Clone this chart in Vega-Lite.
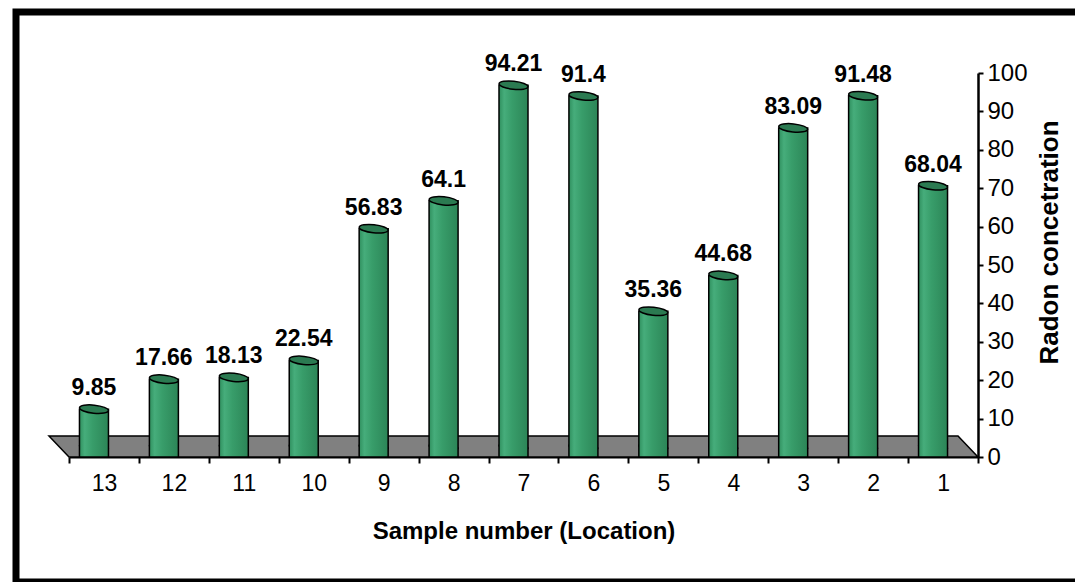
{
  "$schema": "https://vega.github.io/schema/vega-lite/v6.json",
  "width": 1070,
  "height": 570,
  "autosize": "none",
  "padding": {"left": 16, "top": 12, "right": 0, "bottom": 0},
  "background": "white",
  "config": {
    "view": {"stroke": "black", "strokeWidth": 7},
    "font": "Liberation Sans",
    "axisRight": {
      "grid": false,
      "domainColor": "black", "domainWidth": 2.5,
      "tickColor": "black", "tickWidth": 2, "tickSize": 5,
      "labelFontSize": 24, "labelColor": "black", "labelPadding": 4, "labelFont": "Liberation Sans",
      "titleFontSize": 26, "titleFontWeight": "bold", "titleColor": "black",
      "titleAngle": 270, "titleBaseline": "top", "titlePadding": 9, "titleFont": "Liberation Sans"
    }
  },
  "datasets": {
    "radon": [
      {"loc": "13", "value": 9.85},
      {"loc": "12", "value": 17.66},
      {"loc": "11", "value": 18.13},
      {"loc": "10", "value": 22.54},
      {"loc": "9", "value": 56.83},
      {"loc": "8", "value": 64.1},
      {"loc": "7", "value": 94.21},
      {"loc": "6", "value": 91.4},
      {"loc": "5", "value": 35.36},
      {"loc": "4", "value": 44.68},
      {"loc": "3", "value": 83.09},
      {"loc": "2", "value": 91.48},
      {"loc": "1", "value": 68.04}
    ],
    "floor": [
      {"fx": -0.286, "fy": 5.47, "fy2": 5.47},
      {"fx": 0, "fy": 5.47, "fy2": 0},
      {"fx": 12.714, "fy": 5.47, "fy2": 0},
      {"fx": 13, "fy": 0, "fy2": 0}
    ]
  },
  "layer": [
    {
      "data": {"name": "floor"},
      "mark": {"type": "area", "fill": "#808080", "stroke": "black", "strokeWidth": 1.5, "interpolate": "linear", "opacity": 1},
      "encoding": {
        "x": {"field": "fx", "type": "quantitative", "scale": {"domain": [0, 13], "range": [53, 962], "zero": false, "nice": false}, "axis": null},
        "y": {
          "field": "fy", "type": "quantitative",
          "scale": {"domain": [0, 100], "range": [445, 61], "nice": false},
          "axis": {"orient": "right", "offset": -108, "values": [0, 10, 20, 30, 40, 50, 60, 70, 80, 90, 100], "title": "Radon concetration",
            "labelFontSize": 24, "titleFontSize": 26, "titleAngle": 270, "titleBaseline": "top", "titlePadding": 9, "titleY": 230}
        },
        "y2": {"field": "fy2"}
      }
    },
    {
      "data": {"name": "radon"},
      "encoding": {
        "x": {
          "field": "loc", "type": "nominal",
          "sort": ["13", "12", "11", "10", "9", "8", "7", "6", "5", "4", "3", "2", "1"],
          "scale": {"range": [53, 962], "paddingInner": 0, "paddingOuter": 0},
          "axis": {
            "orient": "bottom", "offset": -125,
            "labelAngle": 0, "tickBand": "extent",
            "domainColor": "black", "domainWidth": 2,
            "tickColor": "black", "tickWidth": 2, "tickSize": 6,
            "labelFontSize": 23, "labelColor": "black", "labelPadding": 9, "labelFont": "Liberation Sans",
            "title": "Sample number (Location)", "titleFontSize": 24, "titleFontWeight": "bold", "titleColor": "black",
            "titlePadding": 24, "titleFont": "Liberation Sans"
          }
        }
      },
      "layer": [
        {
          "mark": {"type": "point", "shape": "M-1,0A1,0.28,0,1,1,1,0A1,0.28,0,1,1,-1,0Z", "size": 841, "filled": true, "fill": "#2f8a5c", "stroke": "black", "strokeWidth": 1.5, "opacity": 1, "angle": 6, "xOffset": -10, "yOffset": -10},
          "encoding": {
            "y": {"datum": 0, "type": "quantitative",
              "axis": {"orient": "right", "offset": -108, "values": [0, 10, 20, 30, 40, 50, 60, 70, 80, 90, 100], "title": "Radon concetration",
                "labelFontSize": 24, "titleFontSize": 26, "titleAngle": 270, "titleBaseline": "top", "titlePadding": 9, "titleY": 230}}
          }
        },
        {
          "mark": {
            "type": "bar", "width": 29, "xOffset": -10, "yOffset": -10,
            "fill": {"gradient": "linear", "x1": 0, "y1": 0, "x2": 1, "y2": 0,
              "stops": [
                {"offset": 0, "color": "#2f8f5e"},
                {"offset": 0.18, "color": "#46ad7b"},
                {"offset": 0.45, "color": "#389d6a"},
                {"offset": 1, "color": "#2c8557"}
              ]},
            "stroke": "black", "strokeWidth": 1.5
          },
          "encoding": {
            "y": {"field": "value", "type": "quantitative",
              "axis": {"orient": "right", "offset": -108, "values": [0, 10, 20, 30, 40, 50, 60, 70, 80, 90, 100], "title": "Radon concetration",
                "labelFontSize": 24, "titleFontSize": 26, "titleAngle": 270, "titleBaseline": "top", "titlePadding": 9, "titleY": 230}},
            "y2": {"datum": 0}
          }
        },
        {
          "mark": {"type": "point", "shape": "M-1,0A1,0.28,0,1,1,1,0A1,0.28,0,1,1,-1,0Z", "size": 841, "filled": true, "fill": "#2b7a51", "stroke": "black", "strokeWidth": 1.5, "opacity": 1, "angle": 6, "xOffset": -10, "yOffset": -10},
          "encoding": {
            "y": {"field": "value", "type": "quantitative",
              "axis": {"orient": "right", "offset": -108, "values": [0, 10, 20, 30, 40, 50, 60, 70, 80, 90, 100], "title": "Radon concetration",
                "labelFontSize": 24, "titleFontSize": 26, "titleAngle": 270, "titleBaseline": "top", "titlePadding": 9, "titleY": 230}}
          }
        },
        {
          "mark": {"type": "text", "fontSize": 23, "fontWeight": "bold", "font": "Liberation Sans", "color": "black", "baseline": "alphabetic", "xOffset": -10, "yOffset": -10, "dy": -14},
          "encoding": {
            "y": {"field": "value", "type": "quantitative",
              "axis": {"orient": "right", "offset": -108, "values": [0, 10, 20, 30, 40, 50, 60, 70, 80, 90, 100], "title": "Radon concetration",
                "labelFontSize": 24, "titleFontSize": 26, "titleAngle": 270, "titleBaseline": "top", "titlePadding": 9, "titleY": 230}},
            "text": {"field": "value", "type": "quantitative"}
          }
        }
      ]
    }
  ],
  "resolve": {"scale": {"x": "independent"}}
}
